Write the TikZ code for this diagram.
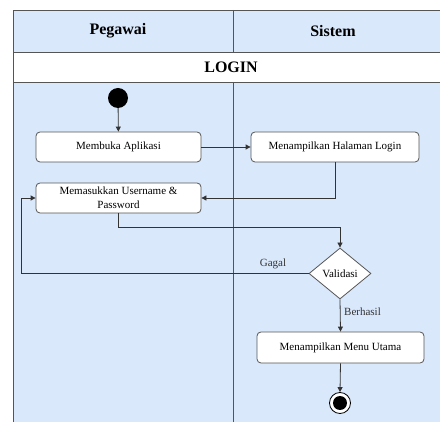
\documentclass[tikz,border=0pt]{standalone}
\usepackage{fontspec}
\setmainfont{Liberation Serif}
\usetikzlibrary{shapes.geometric,arrows.meta}
\definecolor{lane}{HTML}{DAE8FC}
\definecolor{edge}{HTML}{333333}
\definecolor{frame}{HTML}{555555}
\begin{document}
\begin{tikzpicture}[x=1pt,y=-1pt,
  action/.style={draw=frame,fill=white,rounded corners=4pt,line width=0.8pt,
    minimum height=30pt,align=center,font=\fontsize{11}{14}\selectfont,inner sep=2pt},
  decision/.style={draw=frame,fill=white,diamond,aspect=1.2,inner sep=0pt,
    minimum width=62pt,minimum height=51pt,line width=0.8pt,font=\fontsize{11}{13}\selectfont},
  arr/.style={draw=edge,line width=0.8pt,-{Triangle[length=5pt,width=5pt]}},
  lbl/.style={font=\fontsize{11}{13}\selectfont,text=edge,inner sep=1pt},
  head/.style={font=\bfseries\fontsize{16}{18}\selectfont}]
\useasboundingbox (0,0) rectangle (440,422);
\fill[white] (0,0) rectangle (440,422);
\begin{scope}
\clip (0,0) rectangle (440,422);
% swimlane frame
\fill[lane] (13,10) rectangle (450,52);
\fill[white] (13,52) rectangle (450,82);
\fill[lane] (13,82) rectangle (450,440);
\draw[frame,line width=0.9pt] (13,440) -- (13,10) -- (450,10);
\draw[frame,line width=0.9pt] (13,52) -- (450,52);
\draw[frame,line width=0.9pt] (13,82) -- (450,82);
\draw[frame,line width=0.9pt] (233,10) -- (233,52);
\draw[frame,line width=0.9pt] (233,82) -- (233,440);
\end{scope}
\node[head] (hpeg) at (118,31) {Pegawai};
\node[head] (hsis) at (333,31) {Sistem};
\node[head] (hlog) at (231,67) {LOGIN};

% activity nodes
\node[fill=black,circle,minimum size=20pt,inner sep=0pt] (start) at (118,98) {};
\node[action,minimum width=165pt] (open) at (118.5,147) {Membuka Aplikasi};
\node[action,minimum width=165pt] (input) at (118.5,198) {Memasukkan Username \&\\Password};
\node[action,minimum width=168pt] (show) at (335,147) {Menampilkan Halaman Login};
\node[decision] (valid) at (340,273.5) {Validasi};
\node[action,minimum width=167pt,minimum height=31pt] (menu) at (340.5,347.5) {Menampilkan Menu Utama};
\node[draw=black,circle,fill=white,minimum size=21pt,inner sep=0pt,line width=0.8pt] (end) at (340,403) {};
\node[fill=black,circle,minimum size=14pt,inner sep=0pt] (endc) at (end) {};
\coordinate (loop) at (21,273.5);

% flows
\draw[arr] (start) -- (open);
\draw[arr] (open) -- (show);
\draw[arr] (show.south) |- (input.east);
\draw[arr] (input.south) -- ++(0,14) -| (valid.north);
\draw[arr] (valid.west) -- (loop) |- (input.west);
\node[lbl] (gagal) at (273,264) {Gagal};
\draw[arr] (valid.south) -- (menu.north);
\node[lbl,anchor=west] (berhasil) at (343,312) {Berhasil};
\draw[arr] (menu.south) -- (end.north);
\end{tikzpicture}
\end{document}
